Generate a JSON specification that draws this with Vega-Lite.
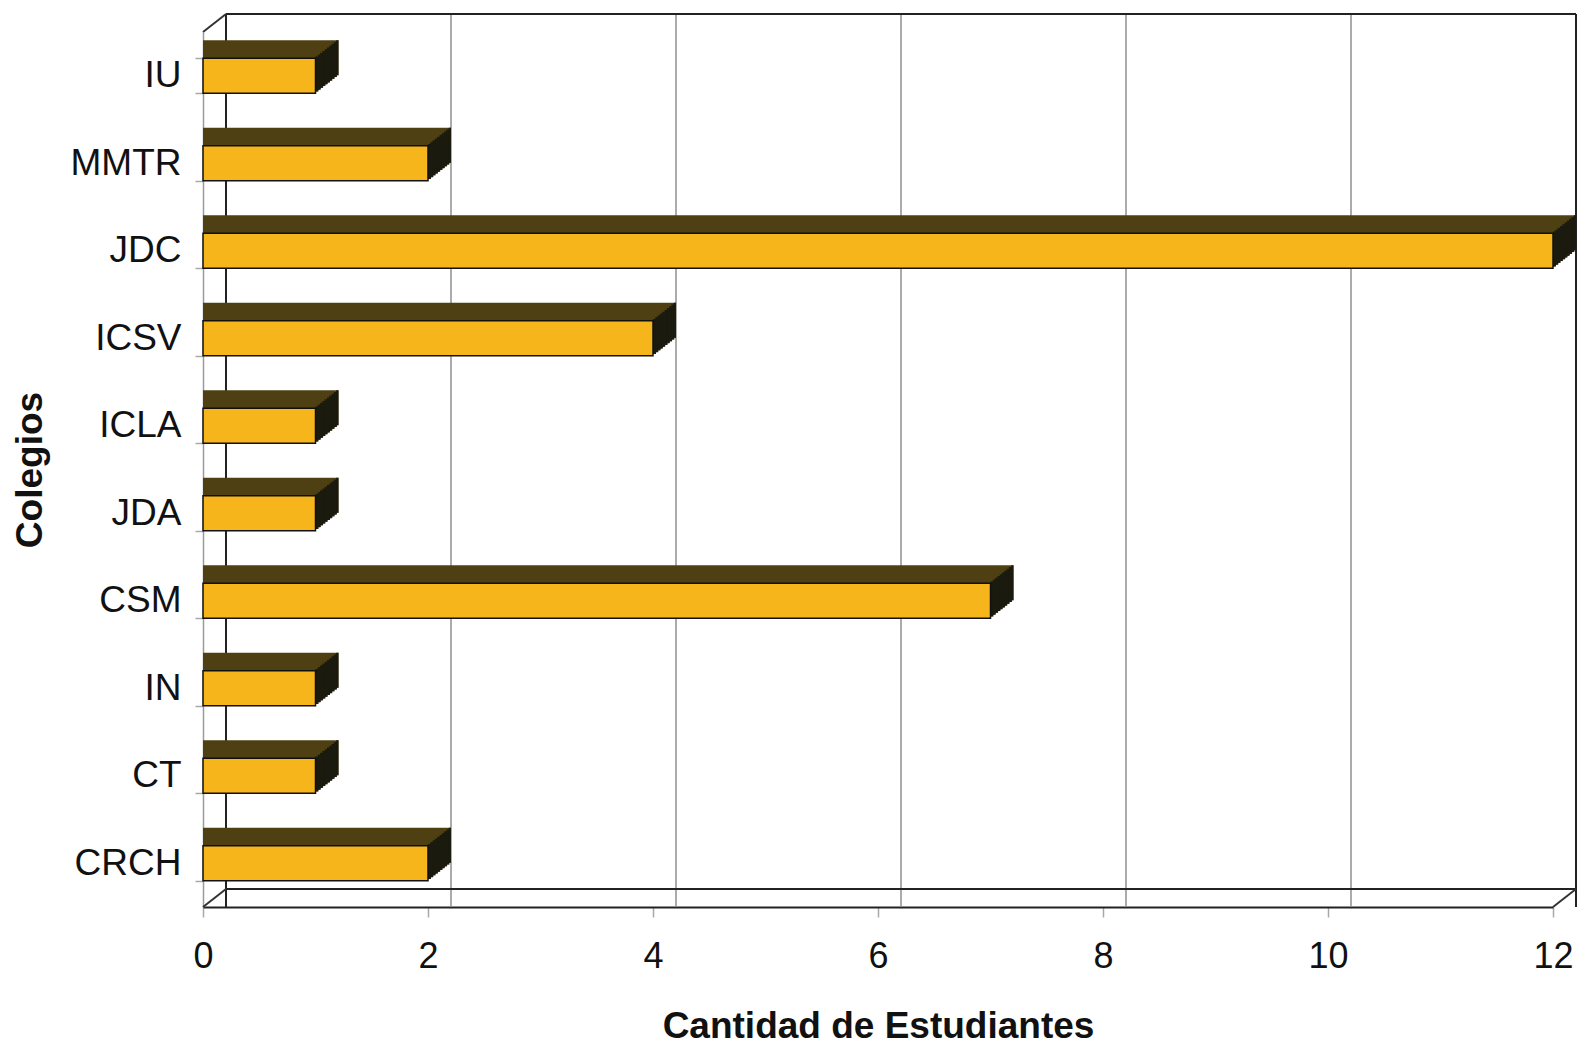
{
  "$schema": "https://vega.github.io/schema/vega-lite/v6.json",
  "width": 1350,
  "height": 875,
  "autosize": "none",
  "padding": {"left": 203, "top": 32, "right": 39, "bottom": 138},
  "background": "white",
  "config": {
    "view": {"stroke": null},
    "font": "Liberation Sans",
    "axisX": {
      "grid": false, "labelFlush": false,
      "titleFontSize": 37, "titleFontWeight": "bold", "titleColor": "#111111", "titlePadding": 34,
      "labelFontSize": 36, "labelColor": "#111111", "labelPadding": 22,
      "tickSize": 10, "tickColor": "#a8a8a8", "tickWidth": 1.5,
      "domainColor": "#222222", "domainWidth": 2
    },
    "axisY": {
      "titleFontSize": 37, "titleFontWeight": "bold", "titleColor": "#111111", "titlePadding": 21,
      "labelFontSize": 37, "labelColor": "#111111", "labelPadding": 14,
      "tickBand": "extent", "tickSize": 8, "tickColor": "#a8a8a8", "tickWidth": 1.5,
      "domainColor": "#9a9a9a", "domainWidth": 1.5
    }
  },
  "datasets": {
    "colegios": [
      {"colegio": "IU", "n": 1},
      {"colegio": "MMTR", "n": 2},
      {"colegio": "JDC", "n": 12},
      {"colegio": "ICSV", "n": 4},
      {"colegio": "ICLA", "n": 1},
      {"colegio": "JDA", "n": 1},
      {"colegio": "CSM", "n": 7},
      {"colegio": "IN", "n": 1},
      {"colegio": "CT", "n": 1},
      {"colegio": "CRCH", "n": 2}
    ],
    "grid": [{"v": 2}, {"v": 4}, {"v": 6}, {"v": 8}, {"v": 10}],
    "edges": [{"v": 0}, {"v": 12}],
    "planes": [{"x0": 0, "x1": 12, "lvl": 0}, {"x0": 0, "x1": 12, "lvl": 1}],
    "corners": [{"v": 0, "lvl": 0}, {"v": 0, "lvl": 1}, {"v": 12, "lvl": 0}]
  },
  "resolve": {"scale": {"y": "independent"}},
  "layer": [
    {
      "layer": [
        {
          "data": {"name": "grid"},
          "mark": {"type": "rule", "color": "#8f8f8f", "strokeWidth": 1.5, "xOffset": 23, "yOffset": -18, "y2Offset": -18},
          "encoding": {"x": {"field": "v", "type": "quantitative", "scale": {"domain": [0, 12]}, "axis": {"title": "Cantidad de Estudiantes", "values": [0, 2, 4, 6, 8, 10, 12]}}}
        },
        {
          "data": {"name": "edges"},
          "mark": {"type": "rule", "color": "#222222", "strokeWidth": 2, "xOffset": 23, "yOffset": -18, "y2Offset": -18},
          "encoding": {"x": {"field": "v", "type": "quantitative", "scale": {"domain": [0, 12]}, "axis": {"title": "Cantidad de Estudiantes", "values": [0, 2, 4, 6, 8, 10, 12]}}}
        },
        {
          "data": {"name": "planes"},
          "mark": {"type": "rule", "color": "#222222", "strokeWidth": 2, "xOffset": 23, "x2Offset": 23, "yOffset": -18, "y2Offset": -18},
          "encoding": {
            "x": {"field": "x0", "type": "quantitative", "scale": {"domain": [0, 12]}, "axis": {"title": "Cantidad de Estudiantes", "values": [0, 2, 4, 6, 8, 10, 12]}},
            "x2": {"field": "x1"},
            "y": {"field": "lvl", "type": "quantitative", "scale": {"domain": [0, 1]}, "axis": null}
          }
        },
        {
          "data": {"name": "corners"},
          "mark": {"type": "rule", "color": "#333333", "strokeWidth": 2, "x2Offset": 23, "y2Offset": -18},
          "encoding": {
            "x": {"field": "v", "type": "quantitative", "scale": {"domain": [0, 12]}, "axis": {"title": "Cantidad de Estudiantes", "values": [0, 2, 4, 6, 8, 10, 12]}},
            "x2": {"field": "v"},
            "y": {"field": "lvl", "type": "quantitative", "scale": {"domain": [0, 1]}, "axis": null},
            "y2": {"field": "lvl"}
          }
        }
      ]
    },
    {
      "data": {"name": "colegios"},
      "encoding": {
        "y": {
          "field": "colegio", "type": "nominal", "sort": null,
          "scale": {"paddingInner": 0.6, "paddingOuter": 0.3},
          "axis": {"title": "Colegios"}
        },
        "x": {
          "field": "n", "type": "quantitative", "stack": null, "scale": {"domain": [0, 12]},
          "axis": {"title": "Cantidad de Estudiantes", "values": [0, 2, 4, 6, 8, 10, 12]}
        }
      },
      "layer": [
        {"mark": {"type": "bar", "color": "#4e4012", "xOffset": 2.3, "x2Offset": 2.3, "yOffset": -1.8}},
        {"mark": {"type": "bar", "color": "#4e4012", "xOffset": 4.6, "x2Offset": 4.6, "yOffset": -3.6}},
        {"mark": {"type": "bar", "color": "#4e4012", "xOffset": 6.9, "x2Offset": 6.9, "yOffset": -5.4}},
        {"mark": {"type": "bar", "color": "#4e4012", "xOffset": 9.2, "x2Offset": 9.2, "yOffset": -7.2}},
        {"mark": {"type": "bar", "color": "#4e4012", "xOffset": 11.5, "x2Offset": 11.5, "yOffset": -9}},
        {"mark": {"type": "bar", "color": "#4e4012", "xOffset": 13.8, "x2Offset": 13.8, "yOffset": -10.8}},
        {"mark": {"type": "bar", "color": "#4e4012", "xOffset": 16.1, "x2Offset": 16.1, "yOffset": -12.6}},
        {"mark": {"type": "bar", "color": "#4e4012", "xOffset": 18.4, "x2Offset": 18.4, "yOffset": -14.4}},
        {"mark": {"type": "bar", "color": "#4e4012", "xOffset": 20.7, "x2Offset": 20.7, "yOffset": -16.2}},
        {"mark": {"type": "bar", "color": "#4e4012", "xOffset": 23, "x2Offset": 23, "yOffset": -18}},
        {"mark": {"type": "bar", "color": "#1b1a0e", "xOffset": 0, "x2Offset": 3, "yOffset": -1.8}, "encoding": {"x2": {"field": "n"}}},
        {"mark": {"type": "bar", "color": "#1b1a0e", "xOffset": 2.3, "x2Offset": 5.3, "yOffset": -3.6}, "encoding": {"x2": {"field": "n"}}},
        {"mark": {"type": "bar", "color": "#1b1a0e", "xOffset": 4.6, "x2Offset": 7.6, "yOffset": -5.4}, "encoding": {"x2": {"field": "n"}}},
        {"mark": {"type": "bar", "color": "#1b1a0e", "xOffset": 6.9, "x2Offset": 9.9, "yOffset": -7.2}, "encoding": {"x2": {"field": "n"}}},
        {"mark": {"type": "bar", "color": "#1b1a0e", "xOffset": 9.2, "x2Offset": 12.2, "yOffset": -9}, "encoding": {"x2": {"field": "n"}}},
        {"mark": {"type": "bar", "color": "#1b1a0e", "xOffset": 11.5, "x2Offset": 14.5, "yOffset": -10.8}, "encoding": {"x2": {"field": "n"}}},
        {"mark": {"type": "bar", "color": "#1b1a0e", "xOffset": 13.8, "x2Offset": 16.8, "yOffset": -12.6}, "encoding": {"x2": {"field": "n"}}},
        {"mark": {"type": "bar", "color": "#1b1a0e", "xOffset": 16.1, "x2Offset": 19.1, "yOffset": -14.4}, "encoding": {"x2": {"field": "n"}}},
        {"mark": {"type": "bar", "color": "#1b1a0e", "xOffset": 18.4, "x2Offset": 21.4, "yOffset": -16.2}, "encoding": {"x2": {"field": "n"}}},
        {"mark": {"type": "bar", "color": "#1b1a0e", "xOffset": 20.7, "x2Offset": 23, "yOffset": -18}, "encoding": {"x2": {"field": "n"}}},
        {"mark": {"type": "bar", "color": "#f7b51c", "stroke": "#111111", "strokeWidth": 1.5}}
      ]
    }
  ]
}
